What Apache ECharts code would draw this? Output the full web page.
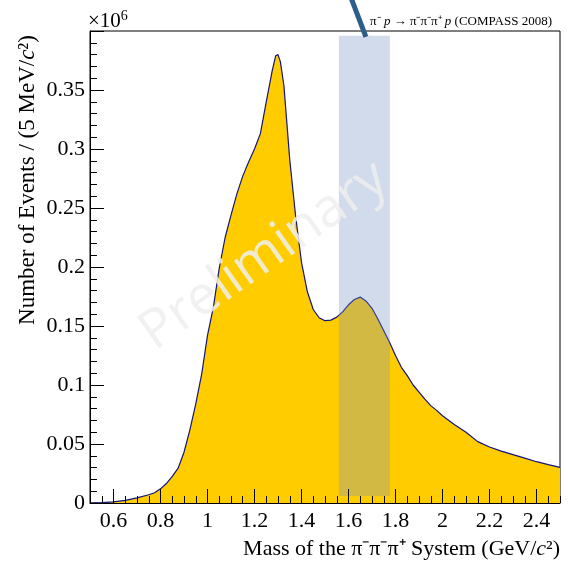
<!DOCTYPE html>
<html>
<head>
<meta charset="utf-8">
<script src="https://cdn.jsdelivr.net/npm/echarts@6/dist/echarts.min.js"></script>
<style>
html,body{margin:0;padding:0;background:#fff;}
#chart{width:568px;height:562px;}
</style>
</head>
<body>
<div id="chart"></div>
<script>
// Mass of the 3-pion system (GeV/c^2)
const mass = [0.50,0.55,0.60,0.65,0.70,0.75,0.775,0.80,0.825,0.85,0.875,0.90,0.925,0.95,0.975,
  1.00,1.025,1.05,1.075,1.10,1.125,1.15,1.175,1.20,1.225,1.25,1.275,1.29,1.30,1.31,1.325,1.35,1.375,
  1.40,1.425,1.45,1.475,1.50,1.525,1.55,1.575,1.60,1.625,1.65,1.675,1.70,1.725,1.75,1.775,
  1.80,1.825,1.85,1.875,1.90,1.925,1.95,1.975,2.00,2.05,2.10,2.15,2.20,2.25,2.30,2.35,2.40,2.45,2.50];
// Number of events (x10^6)
const events = [0.0000,0.0003,0.0010,0.0022,0.0043,0.0070,0.0087,0.0120,0.0165,0.0225,0.0295,0.0430,0.0620,0.0840,0.1090,
  0.1420,0.1660,0.1990,0.2250,0.2440,0.2620,0.2770,0.2890,0.3000,0.3130,0.3400,0.3660,0.3790,0.3800,0.3740,0.3540,0.2910,0.2430,
  0.2040,0.1790,0.1640,0.1570,0.1545,0.1550,0.1575,0.1620,0.1680,0.1725,0.1745,0.1710,0.1650,0.1560,0.1460,0.1360,
  0.1250,0.1150,0.1080,0.1000,0.0940,0.0880,0.0825,0.0785,0.0740,0.0665,0.0600,0.0520,0.0475,0.0440,0.0410,0.0380,0.0350,0.0325,0.0302];

const xMajorTicks = [0.6,0.8,1.0,1.2,1.4,1.6,1.8,2.0,2.2,2.4];
const yTickLabels = [0,0.05,0.1,0.15,0.2,0.25,0.3,0.35];
const bandRange = [1.559, 0.006, 1.776, 0.396];   // xmin, ymin, xmax, ymax
const pointerLine = [[1.611, 0.428],[1.674, 0.395]];

const watermark = 'Preliminary';

const SERIF = '"Liberation Serif","Times New Roman",serif';
const curve = mass.map((m, i) => [m, events[i]]);

const chart = echarts.init(document.getElementById('chart'), null, {renderer: 'canvas'});
chart.setOption({
  animation: false,
  grid: {left: 90, right: 8, top: 31, bottom: 59, show: true, borderColor: '#000', borderWidth: 1, backgroundColor: 'transparent'},
  xAxis: [{
    type: 'value', min: 0.5, max: 2.5, interval: 0.05, z: 10,
    axisLine: {show: true, lineStyle: {color: '#000', width: 1}},
    axisTick: {show: true, inside: true, length: 7, lineStyle: {color: '#000'}},
    axisLabel: {show: false},
    splitLine: {show: false}
  }, {
    type: 'value', min: 0.5, max: 2.5, position: 'bottom', z: 10,
    axisLine: {show: false},
    axisTick: {show: true, inside: true, length: 14, customValues: xMajorTicks, lineStyle: {color: '#000'}},
    axisLabel: {show: true, customValues: xMajorTicks, margin: 7, color: '#000', fontFamily: SERIF, fontSize: 22},
    splitLine: {show: false}
  }],
  yAxis: [{
    type: 'value', min: 0, max: 0.4, interval: 0.05, z: 10,
    axisLine: {show: true, lineStyle: {color: '#000', width: 1}},
    axisTick: {show: true, inside: true, length: 14, lineStyle: {color: '#000'}},
    minorTick: {show: true, splitNumber: 5, length: 7, lineStyle: {color: '#000'}},
    axisLabel: {show: true, customValues: yTickLabels, margin: 5, color: '#000', fontFamily: SERIF, fontSize: 22},
    splitLine: {show: false}
  }],
  series: [{
    type: 'line', data: curve, showSymbol: false, symbol: 'none',
    lineStyle: {color: '#14147a', width: 1.2},
    areaStyle: {color: '#ffcc00', opacity: 1},
    z: 2
  }, {
    type: 'custom', silent: true, z: 5, clip: false,
    data: [bandRange],
    encode: {x: [0, 2], y: [1, 3]},
    renderItem: function (params, api) {
      const p0 = api.coord([api.value(0), api.value(1)]);
      const p1 = api.coord([api.value(2), api.value(3)]);
      return {type: 'rect', shape: {x: p0[0], y: p1[1], width: p1[0] - p0[0], height: p0[1] - p1[1]},
        style: {fill: 'rgba(120,150,195,0.34)'}};
    }
  }, {
    type: 'line', data: pointerLine, clip: false, showSymbol: false, symbol: 'none', silent: true,
    lineStyle: {color: '#2d5d8b', width: 5, cap: 'butt'}, z: 6
  }],
  graphic: [
    {type: 'text', x: 552, y: 22, z: 20, style: {
      text: '{a|π⁻ }{i|p}{a| → π⁻π⁻π⁺ }{i|p}{a| (COMPASS 2008)}',
      align: 'right', verticalAlign: 'middle',
      rich: {a: {fontFamily: SERIF, fontSize: 13, fill: '#000'}, i: {fontFamily: SERIF, fontSize: 13, fontStyle: 'italic', fill: '#000'}}
    }},
    {type: 'text', x: 88, y: 21, z: 20, style: {
      text: '{a|×10}{s|6}', align: 'left', verticalAlign: 'middle',
      rich: {a: {fontFamily: SERIF, fontSize: 21, fill: '#000'}, s: {fontFamily: SERIF, fontSize: 14, fill: '#000', verticalAlign: 'top', padding: [0,0,10,0]}}
    }},
    {type: 'text', x: 560, y: 549, z: 20, style: {
      text: '{a|Mass of the π⁻π⁻π⁺ System (GeV/}{i|c}{a|²)}',
      align: 'right', verticalAlign: 'middle',
      rich: {a: {fontFamily: SERIF, fontSize: 22, fill: '#000'}, i: {fontFamily: SERIF, fontSize: 22, fontStyle: 'italic', fill: '#000'}}
    }},
    {type: 'text', x: 28, y: 180, rotation: Math.PI / 2, z: 20, style: {
      text: '{a|Number of Events / (5 MeV/}{i|c}{a|²)}',
      align: 'center', verticalAlign: 'middle',
      rich: {a: {fontFamily: SERIF, fontSize: 23, fill: '#000'}, i: {fontFamily: SERIF, fontSize: 23, fontStyle: 'italic', fill: '#000'}}
    }},
    {type: 'text', x: 264, y: 256, rotation: 35 * Math.PI / 180, z: 30, silent: true, style: {
      text: watermark, align: 'center', verticalAlign: 'middle',
      fontFamily: '"Open Sans","Noto Sans",sans-serif', fontSize: 54, fill: '#eeeeee', opacity: 0.85
    }}
  ]
});
</script>
</body>
</html>
